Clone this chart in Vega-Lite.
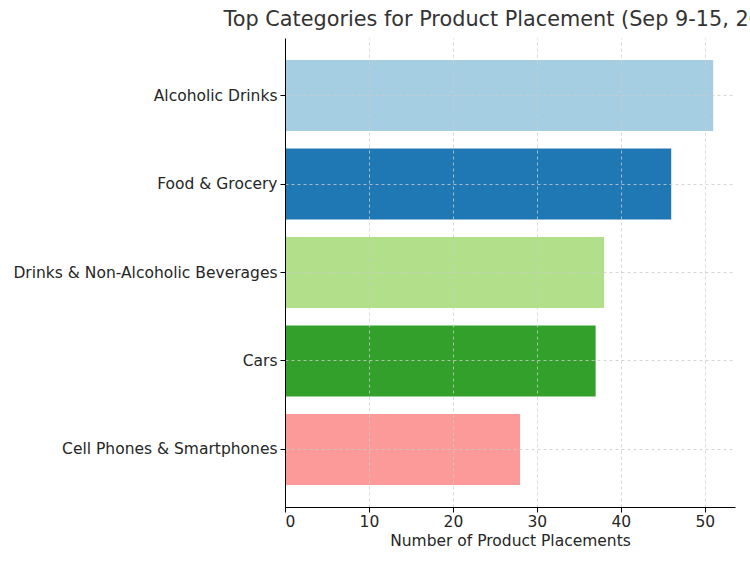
{
  "$schema": "https://vega.github.io/schema/vega-lite/v6.json",
  "width": 450,
  "height": 469,
  "padding": {"left": 12, "top": 9, "right": 0, "bottom": 0},
  "background": "white",
  "config": {
    "font": "DejaVu Sans",
    "view": {"stroke": null}
  },
  "title": {
    "text": "Top Categories for Product Placement (Sep 9-15, 2024)",
    "fontSize": 20.8,
    "fontWeight": "normal",
    "color": "#333333",
    "anchor": "middle",
    "offset": 7
  },
  "data": {
    "values": [
      {"category": "Alcoholic Drinks", "count": 51},
      {"category": "Food & Grocery", "count": 46},
      {"category": "Drinks & Non-Alcoholic Beverages", "count": 38},
      {"category": "Cars", "count": 37},
      {"category": "Cell Phones & Smartphones", "count": 28}
    ]
  },
  "mark": {"type": "bar"},
  "encoding": {
    "y": {
      "field": "category",
      "type": "nominal",
      "sort": null,
      "scale": {"paddingInner": 0.2, "paddingOuter": 0.25},
      "axis": {
        "title": null,
        "bandPosition": 0.5,
        "grid": true,
        "gridDash": [3, 3],
        "gridColor": "#cccccc",
        "gridWidth": 0.8,
        "domainColor": "#000000",
        "domainWidth": 1,
        "tickColor": "#000000",
        "tickSize": 5,
        "labelPadding": 3,
        "labelFontSize": 15.5,
        "labelLimit": 0,
        "labelColor": "#262626",
        "zindex": 1
      }
    },
    "x": {
      "field": "count",
      "type": "quantitative",
      "scale": {"domain": [0, 53.6], "nice": false},
      "axis": {
        "title": "Number of Product Placements",
        "titleFontSize": 15.5,
        "titleFontWeight": "normal",
        "titleColor": "#262626",
        "titlePadding": 4,
        "values": [0, 10, 20, 30, 40, 50],
        "grid": true,
        "gridDash": [3, 3],
        "gridColor": "#cccccc",
        "gridWidth": 0.8,
        "domainColor": "#000000",
        "domainWidth": 1,
        "tickColor": "#000000",
        "tickSize": 5,
        "labelPadding": 2,
        "labelFontSize": 15.5,
        "labelColor": "#262626",
        "zindex": 1
      }
    },
    "color": {
      "field": "category",
      "type": "nominal",
      "legend": null,
      "scale": {
        "domain": ["Alcoholic Drinks", "Food & Grocery", "Drinks & Non-Alcoholic Beverages", "Cars", "Cell Phones & Smartphones"],
        "range": ["#a6cee3", "#1f78b4", "#b2df8a", "#33a02c", "#fb9a99"]
      }
    }
  }
}
